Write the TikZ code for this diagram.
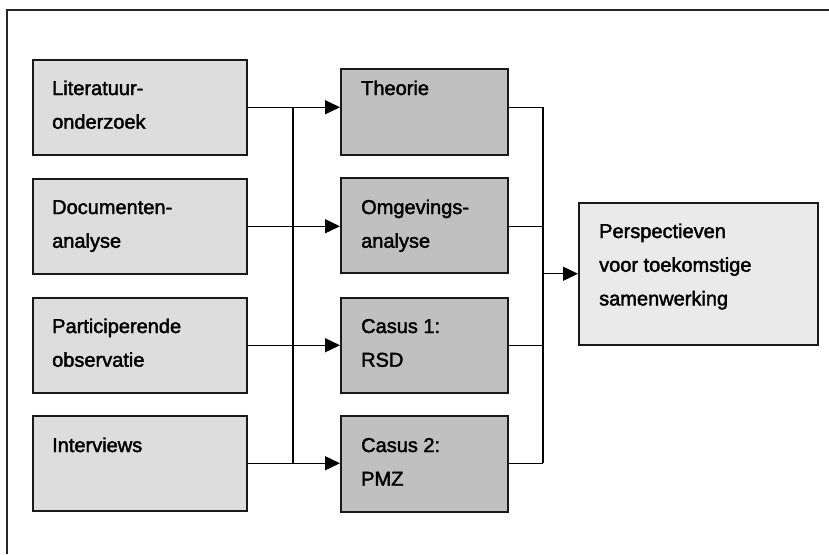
\documentclass[tikz,border=0pt]{standalone}
\usepackage{fontspec}
\setmainfont{Liberation Sans}
\newfontfamily\labelfont{Liberation Sans}[FakeBold=2]
\usetikzlibrary{arrows.meta}
\definecolor{srcfill}{HTML}{DDDDDD}
\definecolor{midfill}{HTML}{C0C0C0}
\definecolor{outfill}{HTML}{EAEAEA}
% multi-line label whose baseline is that of its first line
\newcommand{\toplines}[1]{\begin{tabular}[t]{@{}l@{}}#1\end{tabular}}
\tikzset{
  box/.style={draw=black!90, line width=1.5pt, rectangle, inner sep=0pt, anchor=north west},
  srcbox/.style={box, fill=srcfill, minimum width=214pt, minimum height=95pt},
  midbox/.style={box, fill=midfill, minimum width=167pt},
  outbox/.style={box, fill=outfill, minimum width=239pt, minimum height=142pt},
  label/.style={anchor=base west, inner sep=0pt,
    font=\labelfont\fontsize{20}{33.7}\selectfont},
  link/.style={line width=1.3pt, black},
  arr/.style={link, -{Triangle[length=15pt,width=14pt]}},
  frame/.style={line width=1.4pt, black!85}
}
\begin{document}
\begin{tikzpicture}[x=1pt, y=-1pt]
  \useasboundingbox (0,0) rectangle (829,554);
  % outer frame (top and left edges)
  \draw[frame] (7,554) -- (7,10) -- (829,10);

  % source boxes
  \node[srcbox] (lit) at (32,59)  {};
  \node[srcbox] (doc) at (32,178) {};
  \node[srcbox] (par) at (32,297) {};
  \node[srcbox] (int) at (32,415) {};
  \node[label] (litT) at (52,95)  {\toplines{Literatuur-\\onderzoek}};
  \node[label] (docT) at (52,214) {\toplines{Documenten-\\analyse}};
  \node[label] (parT) at (52,333) {\toplines{Participerende\\observatie}};
  \node[label] (intT) at (52,452) {\toplines{Interviews}};

  % intermediate boxes
  \node[midbox, minimum height=86pt] (theo) at (340,68)  {};
  \node[midbox, minimum height=95pt] (omg)  at (340,177) {};
  \node[midbox, minimum height=95pt] (cas1) at (340,297) {};
  \node[midbox, minimum height=96pt] (cas2) at (340,415) {};
  \node[label] (theoT) at (361,95)  {\toplines{Theorie}};
  \node[label] (omgT)  at (361,214) {\toplines{Omgevings-\\analyse}};
  \node[label] (cas1T) at (361,333) {\toplines{Casus 1:\\RSD}};
  \node[label] (cas2T) at (361,452) {\toplines{Casus 2:\\PMZ}};

  % outcome box
  \node[outbox] (per) at (578,202) {};
  \node[label] (perT) at (599,238) {\toplines{Perspectieven\\voor toekomstige\\samenwerking}};

  % junction columns
  \coordinate (hubL) at (293,0);
  \coordinate (hubR) at (543,0);

  % sources into the shared trunk and on to each analysis
  \draw[link] (lit.east) -- (lit.east -| hubL);
  \draw[link] (doc.east) -- (doc.east -| hubL);
  \draw[link] (par.east) -- (par.east -| hubL);
  \draw[link] (int.east) -- (int.east -| hubL);
  \draw[link] (lit.east -| hubL) -- (int.east -| hubL);
  \draw[arr] (lit.east -| hubL) -- (lit.east -| theo.west);
  \draw[arr] (doc.east -| hubL) -- (doc.east -| omg.west);
  \draw[arr] (par.east -| hubL) -- (par.east -| cas1.west);
  \draw[arr] (int.east -| hubL) -- (int.east -| cas2.west);

  % analyses merged into the outcome
  \draw[link] (lit.east -| theo.east) -- (lit.east -| hubR);
  \draw[link] (doc.east -| omg.east)  -- (doc.east -| hubR);
  \draw[link] (par.east -| cas1.east) -- (par.east -| hubR);
  \draw[link] (int.east -| cas2.east) -- (int.east -| hubR);
  \draw[link] (lit.east -| hubR) -- (int.east -| hubR);
  \draw[arr] (per.west -| hubR) -- (per.west);
\end{tikzpicture}
\end{document}
